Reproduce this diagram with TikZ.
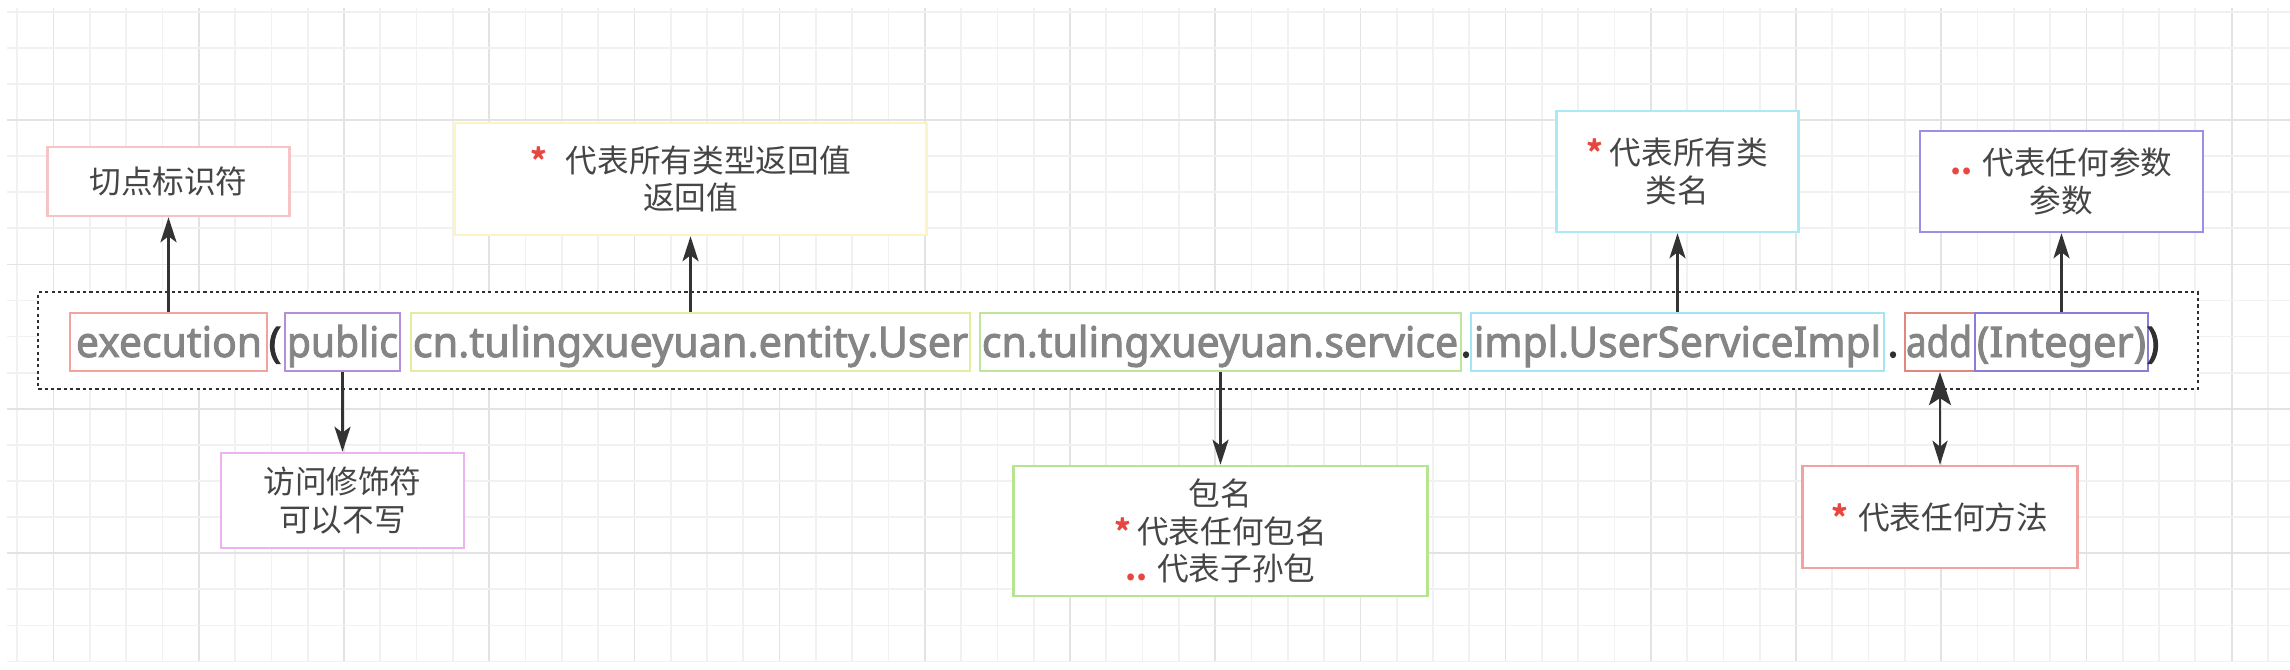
\documentclass[tikz,border=0pt]{standalone}
\usepackage{fontspec}
\usepackage{graphicx}
\setmainfont{Noto Sans CJK SC}
\newfontfamily\codefont{Noto Sans}[AutoFakeBold=2.2]
\usetikzlibrary{arrows.meta}
\definecolor{gridminor}{HTML}{F1F1F1}
\definecolor{gridmajor}{HTML}{E3E3E3}
\definecolor{codegray}{HTML}{858585}
\definecolor{codedark}{HTML}{303030}
\definecolor{labelc}{HTML}{454545}
\definecolor{starred}{HTML}{E8473F}
\definecolor{arrowc}{HTML}{333333}
\definecolor{cExec}{HTML}{F2A49C}
\definecolor{cPub}{HTML}{B48FD8}
\definecolor{cEnt}{HTML}{E6EBA2}
\definecolor{cSrv}{HTML}{BCE79B}
\definecolor{cImpl}{HTML}{A2E6F4}
\definecolor{cAdd}{HTML}{E0877E}
\definecolor{cInt}{HTML}{8C7CDA}
\definecolor{cCut}{HTML}{F6C4C4}
\definecolor{cRet}{HTML}{FDF4C6}
\definecolor{cCls}{HTML}{A8EAF5}
\definecolor{cPar}{HTML}{9C8EE6}
\definecolor{cAcc}{HTML}{EDB2F0}
\definecolor{cPkg}{HTML}{B5E58E}
\definecolor{cMth}{HTML}{F2A2A0}
\newcommand\redstar{{\color{starred}\bfseries *}}
\newcommand\reddots{{\color{starred}\bfseries ..}}
\begin{document}
\begin{tikzpicture}[x=0.01cm,y=-0.01cm,
  gline/.style={draw=gridminor,line width=0.5pt},
  gmaj/.style={draw=gridmajor,line width=0.5pt},
  outerbox/.style={draw=codedark,fill=white,line width=0.6pt,dash pattern=on 0.9pt off 0.9pt,minimum width=21.58cm,minimum height=0.97cm,inner sep=0pt},
  codebox/.style={draw,line width=0.6pt,minimum height=0.58cm,inner sep=0pt},
  codetxt/.style={anchor=base,inner sep=0pt,text=codegray,font=\codefont\bfseries\fontsize{12}{14}\selectfont},
  codesep/.style={anchor=base,inner sep=0pt,text=codedark,font=\codefont\bfseries\fontsize{12}{14}\selectfont},
  lbl/.style={draw,fill=white,line width=0.7pt,align=center,text=labelc,inner sep=0pt,font=\fontsize{9}{10.6}\selectfont},
  arr/.style={draw=arrowc,line width=0.75pt,-{Stealth[length=0.25cm,width=0.16cm,inset=0.06cm]}},
  dblarr/.style={draw=arrowc,line width=0.75pt,{Stealth[length=0.33cm,width=0.22cm,inset=0.07cm]}-{Stealth[length=0.24cm,width=0.15cm,inset=0.06cm]}}
]
\useasboundingbox (0,0) rectangle (2290,670);
\fill[white] (0,0) rectangle (2290,670);
% grid
\foreach \i in {-9,...,53}{
  \pgfmathsetmacro\xx{344+36.3*\i}
  \pgfmathtruncatemacro\mm{mod(\i+100,4)}
  \ifnum\mm=0 \draw[gmaj] (\xx,8) -- (\xx,662); \else \draw[gline] (\xx,8) -- (\xx,662); \fi
}
\foreach \j in {-3,...,15}{
  \pgfmathsetmacro\yy{120+36.1*\j}
  \pgfmathtruncatemacro\mm{mod(\j+100,4)}
  \ifnum\mm=0 \draw[gmaj] (7,\yy) -- (2290,\yy); \else \draw[gline] (7,\yy) -- (2290,\yy); \fi
}
% outer dotted frame
\node[outerbox] (outer) at (1118,340.5) {};
% code segment boxes
\node[codebox,draw=cExec,minimum width=1.97cm] (exec) at (168.5,342) {};
\node[codebox,draw=cPub,minimum width=1.15cm] (pub) at (342.5,342) {};
\node[codebox,draw=cEnt,minimum width=5.59cm] (ent) at (690.5,342) {};
\node[codebox,draw=cSrv,minimum width=4.81cm] (srv) at (1220.5,342) {};
\node[codebox,draw=cImpl,minimum width=4.13cm] (impl) at (1677.5,342) {};
\node[codebox,draw=cAdd,minimum width=0.70cm] (add) at (1940,342) {};
\node[codebox,draw=cInt,minimum width=1.73cm] (intg) at (2061.5,342) {};
% code texts
\node[codetxt] (t1) at (169,357) {\resizebox{1.86cm}{\height}{execution}};
\node[codesep] (s1) at (275,357) {(};
\node[codetxt] (t2) at (342.5,357) {\resizebox{1.11cm}{\height}{public}};
\node[codetxt] (t3) at (690.5,357) {\resizebox{5.55cm}{\height}{cn.tulingxueyuan.entity.User}};
\node[codetxt] (t4) at (1220,357) {\resizebox{4.76cm}{\height}{cn.tulingxueyuan.service}};
\node[codesep] (s2) at (1466,357) {.};
\node[codetxt] (t5) at (1677.5,357) {\resizebox{4.07cm}{\height}{impl.UserServiceImpl}};
\node[codesep] (s3) at (1893,357) {.};
\node[codetxt] (t6) at (1939,357) {\resizebox{0.66cm}{\height}{add}};
\node[codetxt] (t7) at (2061.5,357) {\resizebox{1.69cm}{\height}{(Integer)}};
\node[codesep] (s4) at (2153,357) {)};
% label boxes
\node[lbl,draw=cCut,minimum width=2.42cm,minimum height=0.69cm] (cut) at (168.5,181.5) {切点标识符};
\node[lbl,draw=cRet,minimum width=4.72cm,minimum height=1.12cm] (ret) at (690.5,179) {\redstar\hspace{0.6em}代表所有类型返回值\\返回值};
\node[lbl,draw=cCls,minimum width=2.42cm,minimum height=1.21cm] (cls) at (1677.5,171.5) {\redstar\hspace{0.2em}代表所有类\\类名};
\node[lbl,draw=cPar,minimum width=2.83cm,minimum height=1.01cm] (par) at (2061.5,181.5) {\reddots\hspace{0.3em}代表任何参数\\参数};
\node[lbl,draw=cAcc,minimum width=2.43cm,minimum height=0.95cm] (acc) at (342.5,500.5) {访问修饰符\\可以不写};
\node[lbl,draw=cPkg,minimum width=4.14cm,minimum height=1.30cm] (pkg) at (1220.5,531) {包名\\\redstar\hspace{0.2em}代表任何包名\\\reddots\hspace{0.3em}代表子孙包};
\node[lbl,draw=cMth,minimum width=2.75cm,minimum height=1.02cm] (mth) at (1940,517) {\redstar\hspace{0.3em}代表任何方法};
% connectors
\draw[arr] (exec.north) -- (cut.south);
\draw[arr] (ent.north) -- (ret.south);
\draw[arr] (impl.north) -- (cls.south);
\draw[arr] (intg.north) -- (par.south);
\draw[arr] (pub.south) -- (acc.north);
\draw[arr] (srv.south) -- (pkg.north);
\draw[dblarr] (add.south) -- (mth.north);
\end{tikzpicture}
\end{document}
